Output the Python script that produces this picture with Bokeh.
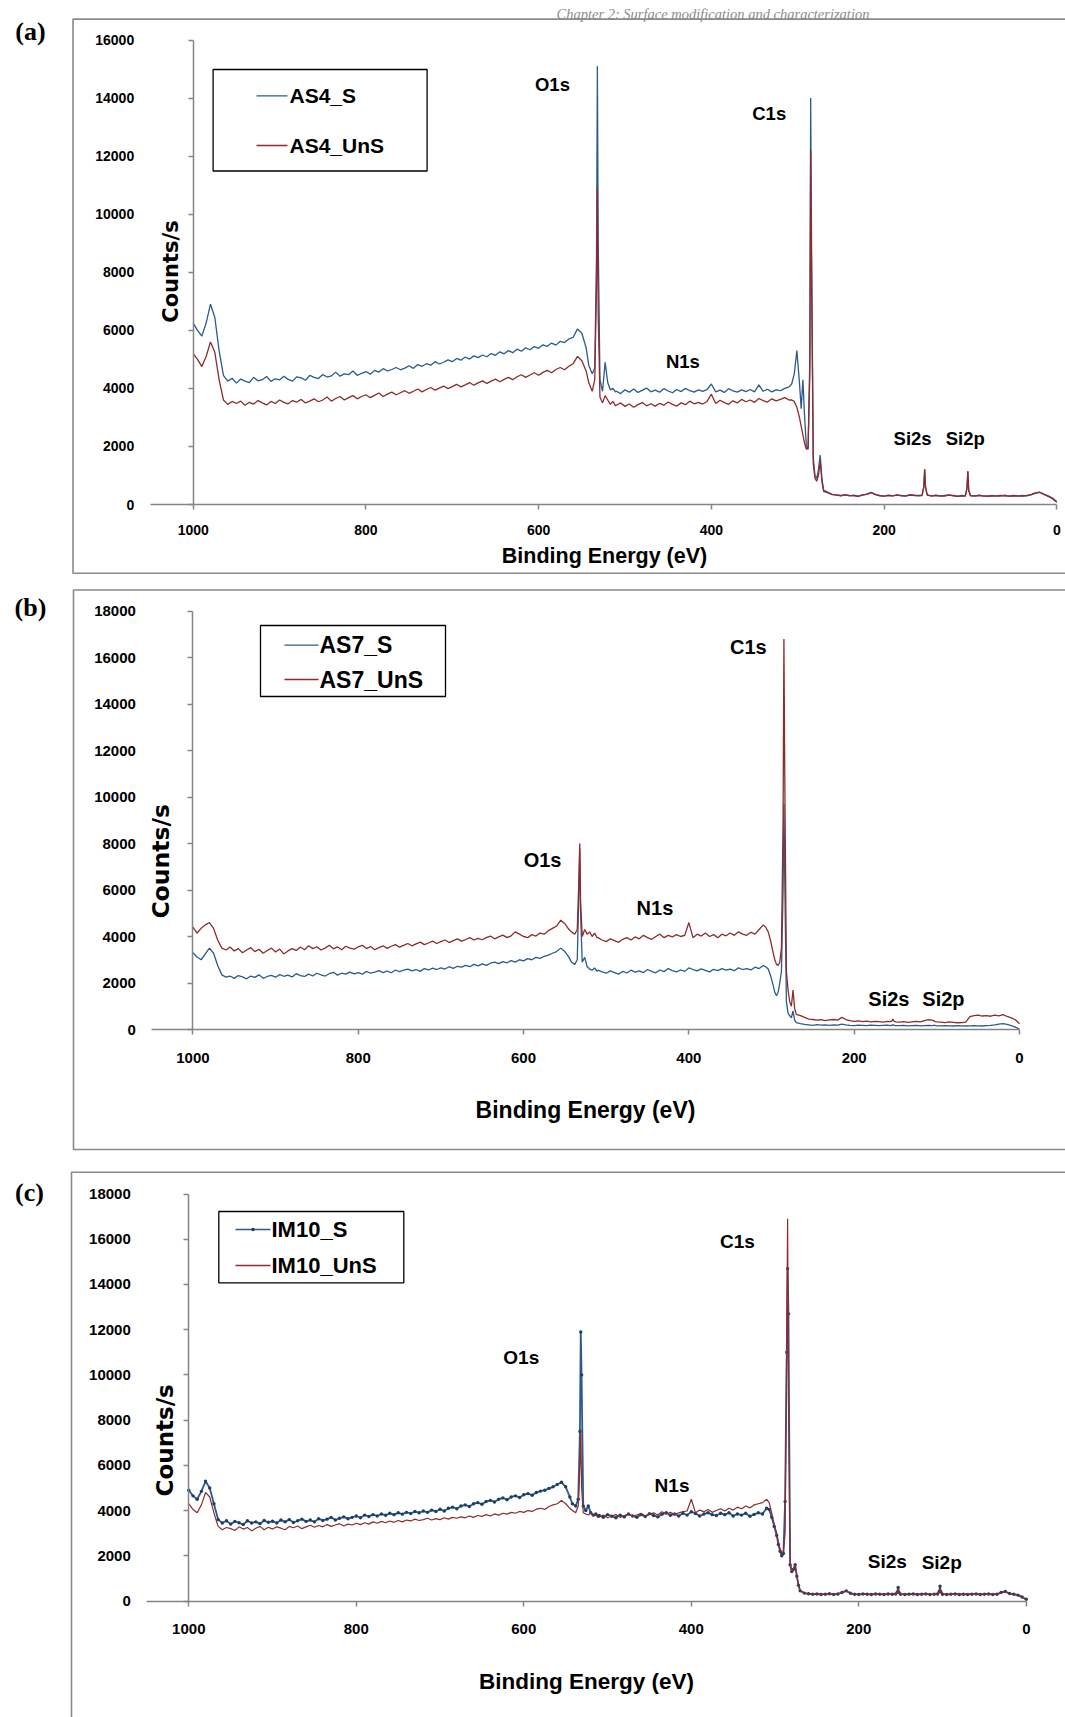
import numpy as np
from bokeh.plotting import figure
from bokeh.models import Range1d, LinearAxis, FixedTicker, NumeralTickFormatter
from bokeh.layouts import column
from bokeh.core.properties import value
from bokeh.embed import file_html
from bokeh.resources import INLINE

# ---------------------------------------------------------------------------
# Binding-energy sampling (eV), shared by every spectrum
# ---------------------------------------------------------------------------
energy = (list(range(1000, 544, -5))                                   # 1000 .. 545
          + [542, 538, 535, 533, 532, 531, 529, 526, 523, 520, 517, 514, 511]
          + list(range(510, 309, -5))                                  # 510 .. 310
          + [307, 304, 301, 298, 296, 294, 292, 290, 288, 286, 285, 284,
             282, 280, 278, 276, 274, 272, 270]
          + list(range(265, 159, -5))                                  # 265 .. 160
          + [156, 154, 153, 152, 150]
          + list(range(145, 109, -5))                                  # 145 .. 110
          + [106, 104, 103, 102, 100]
          + list(range(95, -1, -5)))                                   # 95 .. 0

x_ticks = [1000, 800, 600, 400, 200, 0]
y_ticks_a = [0, 2000, 4000, 6000, 8000, 10000, 12000, 14000, 16000]
y_ticks_bc = [0, 2000, 4000, 6000, 8000, 10000, 12000, 14000, 16000, 18000]

peak_names = ["O1s", "C1s", "N1s", "Si2s", "Si2p"]

# ---------------------------------------------------------------------------
# (a) AS4 survey spectra, counts/s
# ---------------------------------------------------------------------------
as4_s = [
    6250, 6000, 5800, 6250, 6900, 6450, 5300, 4450, 4250, 4350,
    4180, 4320, 4250, 4200, 4380, 4260, 4300, 4410, 4240, 4330,
    4290, 4420, 4310, 4250, 4400, 4360, 4280, 4450, 4380, 4340,
    4480, 4390, 4430, 4560, 4420, 4500, 4470, 4600, 4450, 4520,
    4580, 4490, 4620, 4560, 4680, 4600, 4650, 4720, 4640, 4700,
    4780, 4690, 4820, 4760, 4850, 4800, 4920, 4840, 4900, 4980,
    4920, 5030, 4970, 5080, 5010, 5120, 5060, 5150, 5090, 5200,
    5140, 5260, 5190, 5300, 5230, 5350, 5280, 5400, 5330, 5440,
    5380, 5500, 5450, 5560, 5490, 5620, 5580, 5700, 5760, 6050,
    5900, 5400,
    4800, 4500, 4700, 8500, 15100, 9000, 4300, 3900, 4900, 4200, 3950, 4000, 3880,
    3900, 3820, 3950, 3870, 3980, 3860, 3930, 4010, 3880, 3940,
    3870, 3990, 3910, 3850, 3960, 3890, 4000, 3920, 3870, 3950,
    3900, 3960, 4150, 3880, 3940, 3860, 3990, 3910, 3870, 3950,
    3890, 3960, 3880, 4120, 3900, 3970, 3880, 3950, 3920, 4000,
    4050,
    4150, 4500, 5300, 4200, 3300, 4300, 3000, 2000, 1900, 5000, 14000, 9000,
    1600, 1000, 900, 1200, 1700, 900, 500,
    420, 350, 330, 310, 340, 300, 320, 290, 330, 360, 420, 350, 310, 290, 320,
    300, 330, 310, 300, 340, 320, 310,
    320, 600, 1200, 600, 330,
    300, 320, 290, 310, 330, 300, 280, 310,
    300, 550, 1150, 500, 310,
    290, 320, 300, 280, 310, 290, 300, 320, 280, 300, 290, 310, 300, 330, 380,
    420, 360, 300, 220, 100,
]

as4_uns = [
    5200, 5000, 4750, 5100, 5600, 5250, 4300, 3600, 3450, 3550,
    3480, 3560, 3420, 3520, 3460, 3580, 3500, 3430, 3550, 3480,
    3600, 3520, 3470, 3580, 3530, 3620, 3500, 3560, 3640, 3540,
    3600, 3700, 3560, 3650, 3720, 3600, 3680, 3750, 3640, 3720,
    3780, 3680, 3760, 3840, 3720, 3800, 3870, 3780, 3850, 3920,
    3830, 3900, 3980, 3880, 3960, 4030, 3940, 4010, 4080, 3990,
    4060, 4140, 4050, 4120, 4200, 4110, 4190, 4260, 4170, 4250,
    4320, 4230, 4310, 4380, 4300, 4400, 4470, 4380, 4460, 4540,
    4450, 4550, 4620, 4540, 4650, 4720, 4640, 4760, 4850, 5100,
    4950, 4600,
    4200, 3900, 4300, 7500, 10900, 6500, 3700, 3500, 3750, 3600, 3450, 3550, 3400,
    3420, 3500, 3380, 3460, 3350, 3440, 3510, 3400, 3470, 3390,
    3480, 3420, 3530, 3450, 3390, 3500, 3440, 3560, 3470, 3520,
    3460, 3550, 3800, 3480, 3590, 3510, 3450, 3570, 3500, 3620,
    3540, 3600, 3520, 3650, 3580, 3530, 3640, 3570, 3620, 3680,
    3600,
    3600, 3550, 3350, 3000, 2700, 2400, 2100, 1900, 1950, 4500, 12200, 8000,
    1400, 900, 800, 1000, 1500, 800, 450,
    400, 340, 320, 300, 330, 310, 300, 280, 320, 350, 410, 340, 300, 290, 310,
    300, 320, 300, 290, 320, 310, 300,
    310, 620, 1220, 580, 320,
    290, 310, 300, 290, 320, 310, 290, 300,
    290, 560, 1130, 480, 300,
    300, 310, 290, 300, 290, 300, 310, 290, 300, 310, 300, 290, 310, 340, 400,
    430, 350, 280, 200, 80,
]

# ---------------------------------------------------------------------------
# (b) AS7 survey spectra, counts/s
# ---------------------------------------------------------------------------
as7_s = [
    3300, 3120, 3000, 3250, 3500, 3280, 2750, 2350, 2250, 2300,
    2200, 2320, 2260, 2180, 2300, 2240, 2350, 2200, 2280, 2330,
    2250, 2360, 2290, 2340, 2260, 2400, 2320, 2280, 2380, 2300,
    2420, 2350, 2300, 2400, 2460, 2340, 2420, 2380, 2470, 2390,
    2450, 2380, 2500, 2420, 2470, 2530, 2450, 2510, 2440, 2560,
    2490, 2550, 2600, 2520, 2580, 2500, 2620, 2560, 2640, 2580,
    2650, 2600, 2700, 2630, 2720, 2680, 2760, 2700, 2800, 2740,
    2820, 2760, 2850, 2900, 2830, 2920, 2870, 2960, 2900, 3000,
    2950, 3050, 3000, 3100, 3060, 3150, 3200, 3280, 3350, 3500,
    3350, 3100,
    2900, 2800, 3000, 6000, 7800, 5000, 2900, 3100, 2700, 2600, 2550, 2650, 2500,
    2550, 2480, 2420, 2520, 2450, 2380, 2500, 2430, 2550, 2470,
    2520, 2450, 2580, 2500, 2440, 2560, 2490, 2620, 2530, 2480,
    2560, 2500, 2650, 2580, 2520, 2610, 2540, 2480, 2590, 2530,
    2620, 2550, 2600, 2530, 2650, 2580, 2620, 2560, 2680, 2620,
    2750,
    2700, 2600, 2300, 1900, 1600, 1450, 1600, 2000, 2500, 6000, 9700, 6500,
    1200, 700, 600, 500, 800, 400, 300,
    250, 220, 200, 180, 210, 190, 200, 180, 200, 190, 230, 200, 180, 170, 190,
    180, 170, 190, 180, 170, 180, 190,
    170, 190, 220, 180, 170,
    170, 180, 160, 170, 180, 160, 170, 180,
    170, 180, 190, 170, 160,
    160, 170, 160, 150, 170, 160, 150, 160, 170, 160, 150, 170, 180, 200, 230,
    250, 220, 170, 100, 20,
]

as7_uns = [
    4400, 4150, 4350, 4500, 4600, 4350, 3850, 3500, 3420, 3550,
    3380, 3480, 3300, 3420, 3520, 3350, 3450, 3280, 3400, 3500,
    3330, 3460, 3250, 3380, 3480, 3400, 3550, 3430, 3600, 3480,
    3560, 3420, 3500, 3620, 3470, 3550, 3430, 3580, 3500, 3460,
    3550, 3620, 3480, 3570, 3430, 3520, 3600, 3490, 3580, 3650,
    3540, 3620, 3700, 3600, 3680, 3760, 3650, 3720, 3800, 3700,
    3780, 3850, 3740, 3820, 3900, 3800, 3870, 3950, 3850, 3920,
    3860, 3950, 4020, 3900, 3980, 4060, 3950, 4030, 4200, 4100,
    4000, 3950, 4080, 4020, 4150, 4100, 4250, 4350, 4450, 4700,
    4550, 4300,
    4200, 4100, 4300, 6500, 8000, 5500, 4000, 4300, 4100, 4200, 4000, 4150, 3950,
    3950, 3850, 3780, 3900, 3820, 3750, 3880, 3950, 3850, 3980,
    3900, 4050, 3950, 3880, 4000, 4100, 3950, 4050, 3980, 4080,
    4000, 4050, 4600, 3950, 4100, 4020, 4150, 4000, 4080, 3950,
    4100, 4030, 4150, 4050, 4200, 4100, 4050, 4180, 4100, 4300,
    4500,
    4400, 4200, 3800, 3300, 3000, 2800, 2750, 2900, 3500, 9000, 16800, 11000,
    2500, 1700, 1200, 1000, 1700, 900, 650,
    600, 520, 450, 430, 400, 420, 380, 410, 430, 400, 520, 430, 380, 350, 370,
    340, 360, 330, 350, 340, 320, 350,
    340, 380, 450, 360, 330,
    320, 340, 310, 330, 350, 330, 380, 420,
    400, 380, 360, 340, 330,
    320, 300, 330, 310, 290, 300, 320, 550, 600, 620, 580, 600, 570, 620, 590,
    640, 560, 500, 420, 250,
]

# ---------------------------------------------------------------------------
# (c) IM10 survey spectra, counts/s
# ---------------------------------------------------------------------------
im10_s = [
    4900, 4650, 4500, 4850, 5300, 5000, 4300, 3600, 3450, 3550,
    3400, 3520, 3460, 3380, 3550, 3450, 3500, 3420, 3560, 3480,
    3530, 3450, 3580, 3500, 3600, 3470, 3550, 3620, 3520, 3580,
    3500, 3640, 3560, 3620, 3700, 3580, 3660, 3720, 3640, 3700,
    3760, 3680, 3800, 3740, 3820, 3760, 3850, 3790, 3880, 3820,
    3900, 3840, 3920, 3870, 3960, 3900, 3980, 3920, 4020, 3960,
    4060, 3980, 4100, 4150, 4080, 4200, 4250, 4180, 4300, 4350,
    4280, 4400, 4450, 4380, 4500, 4560, 4480, 4600, 4650, 4580,
    4700, 4750, 4680, 4800, 4860, 4900, 4980, 5050, 5150, 5250,
    5050, 4600,
    4300, 4200, 4500, 7500, 11900, 10000, 4200, 4000, 4200, 3900, 3800, 3850, 3750,
    3780, 3700, 3820, 3750, 3680, 3800, 3720, 3850, 3760, 3700,
    3820, 3740, 3860, 3780, 3720, 3840, 3900, 3790, 3850, 3760,
    3880, 3800, 3950, 3870, 3760, 3850, 3900, 3820, 3780, 3880,
    3820, 3900, 3760, 3850, 3800, 3880, 3750, 3830, 3900, 3850,
    4100,
    4050, 3700, 3300, 2900, 2500, 2200, 2000, 2100, 4400, 11000, 14700, 12700,
    1600, 1300, 1400, 1600, 1100, 700, 450,
    350, 320, 300, 310, 290, 300, 320, 290, 310, 380, 450, 340, 300, 290, 310,
    300, 290, 310, 300, 290, 310, 300,
    310, 400, 600, 380, 300,
    290, 300, 310, 290, 300, 310, 290, 300,
    310, 420, 650, 400, 300,
    290, 300, 310, 290, 300, 290, 300, 310, 290, 300, 310, 290, 300, 380, 420,
    330, 300, 260, 180, 80,
]

im10_uns = [
    4300, 4050, 3900, 4250, 4800, 4600, 3900, 3300, 3150, 3250,
    3200, 3120, 3280, 3180, 3250, 3100, 3220, 3300, 3150, 3260,
    3180, 3280, 3220, 3150, 3300, 3240, 3320, 3200, 3280, 3350,
    3260, 3340, 3280, 3380, 3300, 3360, 3420, 3320, 3400, 3360,
    3440, 3380, 3460, 3400, 3500, 3440, 3520, 3460, 3540, 3480,
    3560, 3500, 3580, 3540, 3620, 3560, 3600, 3660, 3580, 3640,
    3600, 3680, 3620, 3700, 3660, 3720, 3680, 3760, 3700, 3780,
    3740, 3820, 3760, 3850, 3800, 3880, 3840, 3920, 3880, 3960,
    3920, 4000, 3960, 4060, 4100, 4050, 4180, 4250, 4300, 4450,
    4300, 4100,
    4000, 3900, 4200, 6000, 7600, 5000, 3900, 3850, 3800, 3900, 3750, 3800, 3700,
    3720, 3800, 3680, 3760, 3820, 3700, 3780, 3850, 3740, 3800,
    3880, 3760, 3840, 3900, 3800, 3950, 3850, 3920, 3820, 3900,
    3950, 3980, 4500, 3900, 4020, 3950, 4050, 3920, 4000, 4080,
    3980, 4100, 4020, 4150, 4080, 4200, 4120, 4250, 4300, 4350,
    4500,
    4350, 3900, 3400, 3000, 2600, 2300, 2100, 2200, 3000, 12000, 16900, 9000,
    1700, 1300, 1400, 1600, 1100, 700, 450,
    360, 310, 300, 320, 290, 310, 300, 290, 320, 370, 440, 330, 310, 290, 300,
    310, 290, 300, 310, 290, 300, 310,
    300, 380, 560, 370, 300,
    300, 290, 300, 310, 290, 300, 310, 290,
    300, 400, 600, 380, 300,
    300, 290, 300, 310, 290, 300, 310, 290, 300, 290, 300, 310, 290, 360, 400,
    320, 290, 250, 170, 70,
]

for _name, _vals in [("as4_s", as4_s), ("as4_uns", as4_uns), ("as7_s", as7_s),
                     ("as7_uns", as7_uns), ("im10_s", im10_s), ("im10_uns", im10_uns)]:
    assert len(_vals) == len(energy), (_name, len(_vals), len(energy))

# peak annotations placed in data space: (energy eV, counts/s)
peaks_a = [(584, 14470), (333, 13480), (433, 4940), (167, 2290), (106, 2290)]
peaks_b = [(577, 7300), (328, 16450), (441, 5230), (158, 1330), (92, 1330)]
peaks_c = [(603, 10770), (345, 15910), (423, 5130), (166, 1730), (101, 1700)]

BLUE = "#2b5b8c"
RED = "#8e2b2b"
DOT = "#1d3f66"
AXIS = "#858585"
FRAME = "#8a8a8a"
SANS = "Liberation Sans"
WIDE = "DejaVu Sans"
SERIF = "Liberation Serif"


def make_panel(cfg):
    W, H = 1065, cfg["height"]
    px1000, px0 = cfg["px_e1000"], cfg["px_e0"]
    py0, pytop, ctop = cfg["py_c0"], cfg["py_ctop"], cfg["ctop"]
    ppe = (px0 - px1000) / 1000.0
    kpc = (py0 - pytop) / ctop

    # page pixel -> data coordinate helpers for the decorations
    def X(px):
        return 1000.0 - (px - px1000) / ppe

    def Y(py):
        return (py0 - py) / kpc

    p = figure(width=W, height=H,
               x_range=Range1d(X(0), X(W)), y_range=Range1d(Y(H), Y(0)),
               x_axis_type=None, y_axis_type=None,
               toolbar_location=None, output_backend="svg", title=None)
    p.min_border = 0
    p.min_border_left = p.min_border_right = 0
    p.min_border_top = p.min_border_bottom = 0
    p.outline_line_color = None
    p.background_fill_color = "white"
    p.border_fill_color = "white"

    # chart area border
    fl, ft, fb = cfg["frame"]
    p.quad(left=X(fl), right=X(W + 20), top=Y(ft), bottom=Y(fb),
           fill_color=None, line_color=FRAME, line_width=1.6)

    # axes crossing at 1000 eV and at zero counts
    tick_size = cfg["tick_size"]
    xa = LinearAxis(fixed_location=0, bounds=(0, 1050),
                    ticker=FixedTicker(ticks=x_ticks),
                    formatter=NumeralTickFormatter(format="0"))
    ya = LinearAxis(fixed_location=1000, bounds=(0, ctop),
                    ticker=FixedTicker(ticks=cfg["y_ticks"]),
                    formatter=NumeralTickFormatter(format="0"))
    for ax, standoff in ((xa, cfg["x_standoff"]), (ya, cfg["y_standoff"])):
        ax.axis_line_color = AXIS
        ax.axis_line_width = 1.5
        ax.major_tick_line_color = AXIS
        ax.major_tick_line_width = 1.5
        ax.major_tick_out = 5
        ax.major_tick_in = 0
        ax.minor_tick_line_color = None
        ax.major_label_text_font = SANS
        ax.major_label_text_font_size = tick_size
        ax.major_label_text_font_style = "bold"
        ax.major_label_text_color = "black"
        ax.major_label_standoff = standoff
    p.add_layout(xa, "below")
    p.add_layout(ya, "left")

    # spectra
    for vals, color, lw, dots in cfg["series"]:
        p.line(energy, vals, line_color=color, line_width=lw)
        if dots:
            p.scatter(energy, vals, marker="circle", size=3.4,
                      fill_color=DOT, line_color=None)

    # legend
    lsize = cfg["legend_size"]
    bl, bt, br, bb = cfg["legend_box"]
    p.quad(left=X(bl), right=X(br), top=Y(bt), bottom=Y(bb),
           fill_color="white", line_color="black", line_width=1.3)
    lx0, lx1, tx = cfg["legend_x"]
    for (label, color, dots), ry in zip(cfg["legend"], cfg["legend_rows"]):
        p.segment(x0=[X(lx0)], x1=[X(lx1)], y0=[Y(ry)], y1=[Y(ry)],
                  line_color=color, line_width=1.3)
        if dots:
            p.scatter([X((lx0 + lx1) / 2)], [Y(ry)], marker="circle", size=3.6,
                      fill_color=DOT, line_color=None)
        p.text(x=[X(tx)], y=[Y(ry)], text=[label], text_font=value(SANS),
               text_font_style="bold", text_font_size=lsize,
               text_align="left", text_baseline="middle", text_color="black")

    # peak assignments
    p.text(x=[e for e, _ in cfg["peaks"]], y=[c for _, c in cfg["peaks"]],
           text=peak_names, text_font=value(SANS), text_font_style="bold",
           text_font_size=cfg["peak_size"], text_align="center",
           text_baseline="middle", text_color="black")

    # axis titles
    tsize, (tx_c, ty_c) = cfg["xtitle"]
    p.text(x=[X(tx_c)], y=[Y(ty_c)], text=["Binding Energy (eV)"],
           text_font=value(SANS), text_font_style="bold", text_font_size=tsize,
           text_align="center", text_baseline="middle", text_color="black")
    csize, (cx_c, cy_c) = cfg["ytitle"]
    p.text(x=[X(cx_c)], y=[Y(cy_c)], text=["Counts/s"], angle=np.pi / 2,
           text_font=value(WIDE), text_font_style="bold", text_font_size=csize,
           text_align="center", text_baseline="middle", text_color="black")

    # panel tag
    tag, (gx, gy) = cfg["tag"]
    p.text(x=[X(gx)], y=[Y(gy)], text=[tag], text_font=value(SERIF),
           text_font_style="bold", text_font_size="26px",
           text_align="center", text_baseline="middle", text_color="black")

    if cfg.get("header"):
        hx, hy, hsize = cfg["header_pos"]
        p.text(x=[X(hx)], y=[Y(hy)], text=[cfg["header"]], text_font=value(SERIF),
               text_font_style="italic", text_font_size=hsize,
               text_align="left", text_baseline="alphabetic", text_color="#8c8c8c")
    return p


panel_a = make_panel(dict(
    height=580, px_e1000=192.7, px_e0=1056.3, py_c0=504.0, py_ctop=39.5, ctop=16000,
    y_ticks=y_ticks_a, tick_size="14px", x_standoff=15, y_standoff=54,
    frame=(72.5, 18.6, 572.8),
    series=[(as4_s, BLUE, 1.3, False), (as4_uns, RED, 1.3, False)],
    legend_size="21px", legend_box=(212.6, 69.0, 426.6, 170.5),
    legend_x=(256, 287, 289), legend_rows=[95.4, 145.0],
    legend=[("AS4_S", BLUE, False), ("AS4_UnS", RED, False)],
    peak_size="18.5px", peaks=peaks_a,
    xtitle=("21.5px", (604, 555)), ytitle=("21px", (170, 271)),
    tag=("(a)", (30, 31)),
    header="Chapter 2: Surface modification and characterization",
    header_pos=(556, 13.2, "14.5px"),
))

panel_b = make_panel(dict(
    height=580, px_e1000=192.4, px_e0=1019.0, py_c0=449.0, py_ctop=30.5, ctop=18000,
    y_ticks=y_ticks_bc, tick_size="15px", x_standoff=18, y_standoff=52,
    frame=(73.0, 9.5, 569.0),
    series=[(as7_s, BLUE, 1.3, False), (as7_uns, RED, 1.3, False)],
    legend_size="23px", legend_box=(260.0, 45.0, 445.0, 116.0),
    legend_x=(284, 318, 319), legend_rows=[64.7, 99.0],
    legend=[("AS7_S", BLUE, False), ("AS7_UnS", RED, False)],
    peak_size="20px", peaks=peaks_b,
    xtitle=("23px", (585, 529)), ytitle=("23.5px", (160.8, 280.8)),
    tag=("(b)", (30, 27)),
))

panel_c = make_panel(dict(
    height=557, px_e1000=188.3, px_e0=1025.8, py_c0=440.5, py_ctop=33.5, ctop=18000,
    y_ticks=y_ticks_bc, tick_size="15px", x_standoff=18, y_standoff=53,
    frame=(71.0, 11.7, 600.0),
    series=[(im10_s, BLUE, 1.8, True), (im10_uns, RED, 1.2, False)],
    legend_size="22px", legend_box=(218.3, 51.0, 403.3, 122.3),
    legend_x=(235, 270, 271), legend_rows=[69.0, 105.0],
    legend=[("IM10_S", BLUE, True), ("IM10_UnS", RED, False)],
    peak_size="19px", peaks=peaks_c,
    xtitle=("22.5px", (586, 521)), ytitle=("23px", (164.7, 279.8)),
    tag=("(c)", (29, 32)),
))

layout = column(panel_a, panel_b, panel_c, spacing=0)

with open("out.html", "w") as f:
    f.write(file_html(layout, INLINE))
